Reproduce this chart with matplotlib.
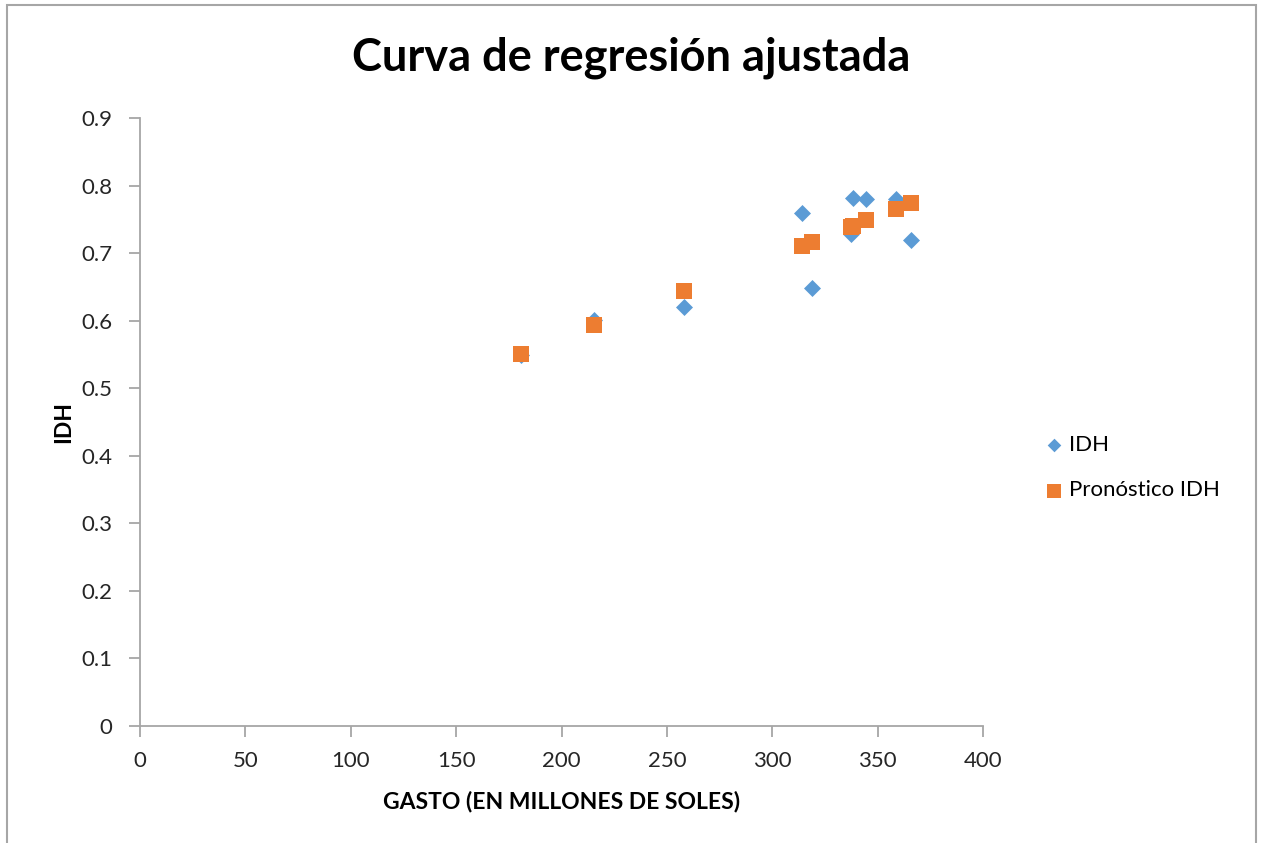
import matplotlib.pyplot as plt
from matplotlib.patches import Rectangle

# gasto (millones de soles) vs IDH observado y pronosticado
gasto = [180.8, 215.5, 258.1, 314.0, 318.9, 337.4, 338.2, 344.6, 358.6, 365.8]
idh = [0.549, 0.601, 0.620, 0.760, 0.649, 0.729, 0.782, 0.780, 0.780, 0.719]
pronostico = [0.551, 0.593, 0.644, 0.710, 0.716, 0.739, 0.740, 0.749, 0.766, 0.774]

xticks = [0, 50, 100, 150, 200, 250, 300, 350, 400]
yticks = [0, 0.1, 0.2, 0.3, 0.4, 0.5, 0.6, 0.7, 0.8, 0.9]
ytick_labels = ['0', '0.1', '0.2', '0.3', '0.4', '0.5', '0.6', '0.7', '0.8', '0.9']

plt.rcParams['font.family'] = ['Lato', 'DejaVu Sans']

W, H = 1265, 843
fig = plt.figure(figsize=(W / 100, H / 100), dpi=100)
ax = fig.add_axes([140 / W, 1 - 726 / H, (983 - 140) / W, (726 - 118) / H])

# marco exterior del gráfico
fig.patches.append(Rectangle((7 / W, -0.05), (1256 - 7) / W, 1 - 5 / H + 0.05,
                             transform=fig.transFigure, fill=False,
                             edgecolor='#a6a6a6', linewidth=1.5))

ax.scatter(gasto, idh, marker='D', s=75, color='#5b9bd5', linewidths=0,
           label='IDH', zorder=3)
ax.scatter(gasto, pronostico, marker='s', s=140, color='#ed7d31',
           linewidths=0, label='Pronóstico IDH', zorder=4)

ax.set_xlim(0, 400)
ax.set_ylim(0, 0.9)
ax.set_xticks(xticks)
ax.set_yticks(yticks)
ax.set_yticklabels(ytick_labels)

for side in ['top', 'right']:
    ax.spines[side].set_visible(False)
for side in ['left', 'bottom']:
    ax.spines[side].set_color('#a6a6a6')
    ax.spines[side].set_linewidth(1.3)
ax.tick_params(axis='both', direction='out', length=8, width=1.3, color='#a6a6a6',
               labelsize=16, labelcolor='#262626')
ax.tick_params(axis='x', pad=10)
ax.tick_params(axis='y', pad=12)

ax.set_xlabel('GASTO (EN MILLONES DE SOLES)', fontsize=16.5, fontweight='bold',
              labelpad=14)
ax.set_ylabel('IDH', fontsize=16.5, fontweight='bold', labelpad=5)

fig.text(631 / W, 1 - 58 / H, 'Curva de regresión ajustada', fontsize=32.5,
         fontweight='bold', ha='center', va='center')

leg = ax.legend(loc='center left', bbox_to_anchor=(1.047, 0.425), frameon=False,
                fontsize=16, handlelength=1.0, handletextpad=0.2,
                labelspacing=1.15, markerscale=0.8)

fig.savefig('out.png', dpi=100)
